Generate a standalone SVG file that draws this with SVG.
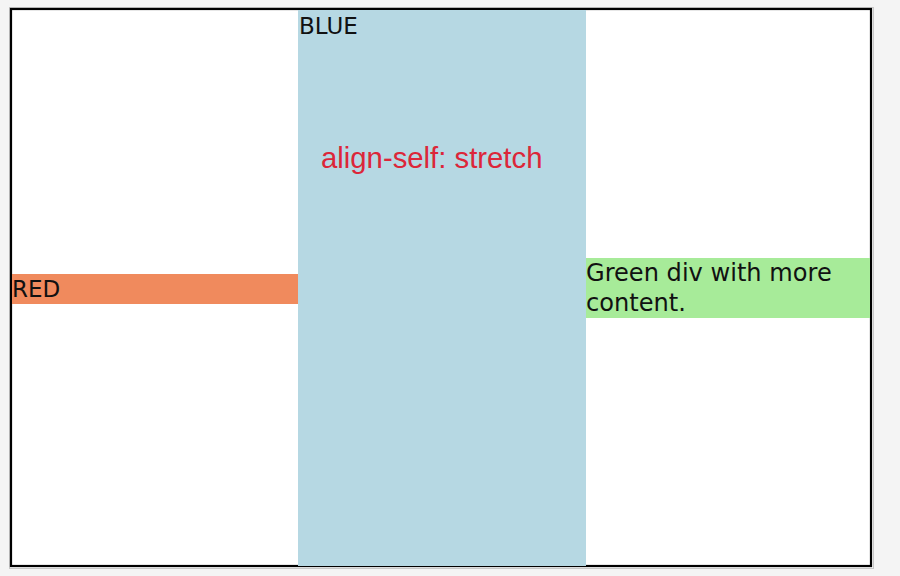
<svg xmlns="http://www.w3.org/2000/svg" width="900" height="576" viewBox="0 0 900 576">
<style>
.lbl{font-family:"DejaVu Sans",Verdana,sans-serif;font-size:23px;fill:#111}
.grn{font-family:"DejaVu Sans",Verdana,sans-serif;font-size:24.1px;fill:#111}
.note{font-family:"Liberation Sans",Arial,sans-serif;font-size:29.3px;fill:#dc2639}
</style>
<rect x="0" y="0" width="900" height="576" fill="#f4f4f4"/>
<g id="container">
<rect x="9.5" y="7.5" width="864" height="561" fill="none" stroke="#c8c8c8" stroke-width="1"/>
<rect x="11" y="9" width="860" height="557" fill="#ffffff" stroke="#000" stroke-width="2.2"/>
</g>
<g id="blue">
<rect x="298" y="10" width="288" height="556" fill="#b6d8e3"/>
<text class="lbl" x="299" y="34">BLUE</text>
<text class="note" x="321" y="168">align-self: stretch</text>
</g>
<g id="red">
<rect x="12" y="274" width="286" height="30" fill="#f08a5d"/>
<text class="lbl" x="12" y="297">RED</text>
</g>
<g id="green">
<rect x="586" y="258" width="284" height="60" fill="#a7eb99"/>
<text class="grn" x="586" y="281">Green div with more</text>
<text class="grn" x="586" y="311">content.</text>
</g>
<g id="connectors"/>
</svg>
